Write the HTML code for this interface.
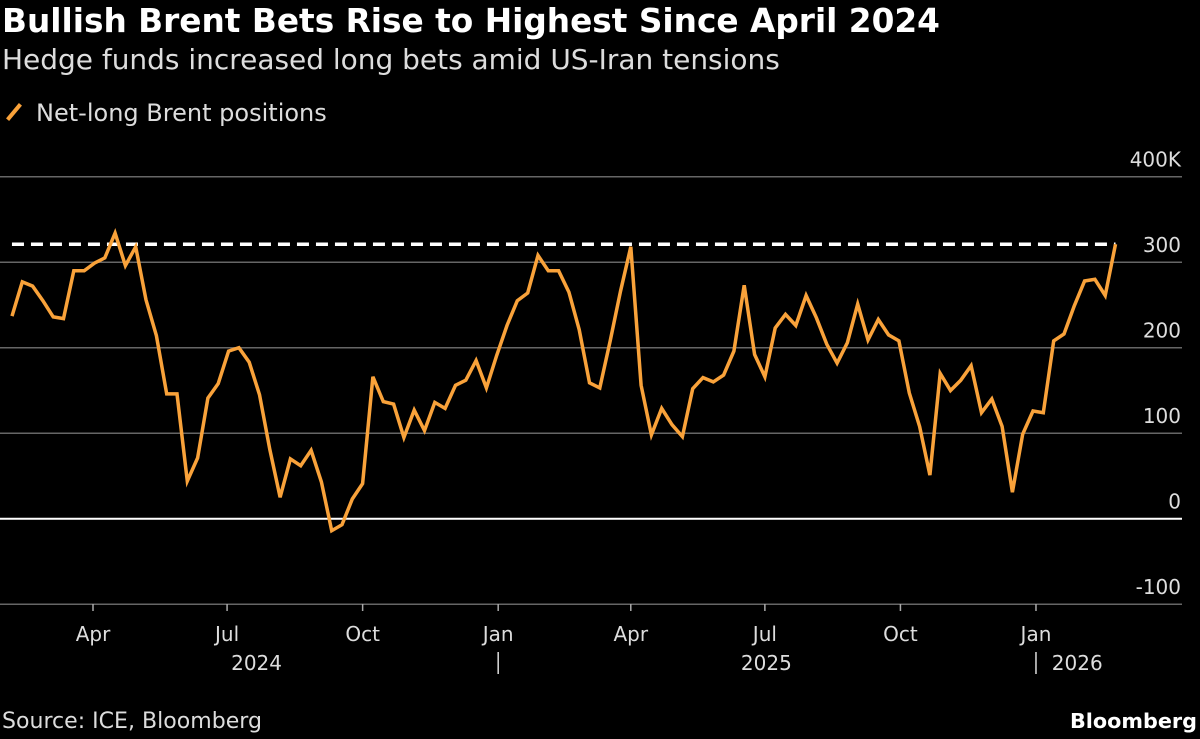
<!DOCTYPE html>
<html><head><meta charset="utf-8"><style>
body{margin:0;background:#000;width:1200px;height:739px;overflow:hidden;font-family:"DejaVu Sans","Liberation Sans",sans-serif;color:#fff}
.fit{position:absolute;white-space:nowrap}
#t{left:2px;top:2px;font-size:27px;font-weight:bold}
#s{left:2px;top:43px;font-size:24px;color:#ddd}
#lg{position:absolute;left:0;top:99px;font-size:20px;color:#ddd;width:400px;height:30px}
#lgt{left:36px;top:0}
#src{left:2px;top:709px;font-size:20px;color:#ddd}
#bb{left:1070px;top:709px;font-size:20px;font-weight:bold}
svg{position:absolute;left:0;top:0}
</style></head><body>
<div id="t" class="fit" data-w="938">Bullish Brent Bets Rise to Highest Since April 2024</div>
<div id="s" class="fit" data-w="778">Hedge funds increased long bets amid US-Iran tensions</div>
<div id="lg"><span style="position:absolute;left:12px;top:3px;width:4px;height:20px;background:#f9a23a;transform:rotate(40deg)"></span><span class="fit" id="lgt" data-w="291">Net-long Brent positions</span></div>
<div id="src" class="fit" data-w="260">Source: ICE, Bloomberg</div>
<div id="bb" class="fit" data-w="127">Bloomberg</div>
<svg id="c" width="1200" height="739"></svg>
<script>
document.querySelectorAll('.fit').forEach(e=>{
 const w=+e.getAttribute('data-w');const fs=parseFloat(getComputedStyle(e).fontSize);
 const r=e.getBoundingClientRect().width; if(r>0)e.style.fontSize=(fs*w/r).toFixed(2)+'px';
});
const values=[237,277,272,255,236,234,290,290,299,305,334,296,318,256,214,146,146,44,71,141,158,196,200,183,145,81,25,70,62,80,43,-14,-7,23,41,166,137,134,95,127,103,136,129,156,162,185,153,191,226,255,264,308,290,290,265,221,159,153,208,266,318,156,98,129,110,96,152,165,160,168,196,273,192,166,223,239,226,261,235,204,182,206,251,209,233,215,208,147,108,51,170,150,162,179,124,140,108,31,99,126,124,208,216,249,278,280,261,321];
const startDate="2024-02-06";
const refValue=321;
const yTicks=[-100,0,100,200,300,400];
const yTickLabels=["-100","0","100","200","300","400K"];
const monthTicks=["2024-04-01","2024-07-01","2024-10-01","2025-01-01","2025-04-01","2025-07-01","2025-10-01","2026-01-01"];
const monthLabels=["Apr","Jul","Oct","Jan","Apr","Jul","Oct","Jan"];
const yearLabels=[["2024","2024-07-21"],["2025","2025-07-02"],["2026","2026-01-29"]];
const yearSeps=["2025-01-01","2026-01-01"];
const NS="http://www.w3.org/2000/svg",svg=document.getElementById('c');
const day=d=>(Date.parse(d)-Date.parse("2024-01-01"))/864e5;
const X=t=>93+(t-91)*1.4734;
const Y=v=>518.7-v*0.855;
function el(tag,a,txt){const e=document.createElementNS(NS,tag);for(const k in a)e.setAttribute(k,a[k]);if(txt!=null)e.textContent=txt;svg.appendChild(e);return e;}
yTicks.forEach((v,i)=>{
 const g=el('line',{x1:0,x2:1182,y1:Y(v),y2:Y(v),stroke:v===0?'#fff':'#666','stroke-width':v===0?2:1.5});
 
 
 const t=el('text',{x:1181,y:Y(v)-10,'text-anchor':'end','font-size':20,fill:'#ddd'},yTickLabels[i]);
 
 
});
monthTicks.forEach((d,i)=>{
 const x=X(day(d));
 const k=el('line',{x1:x,x2:x,y1:604,y2:611,stroke:'#aaa','stroke-width':1.5});
 
 
 const t=el('text',{x:x,y:641,'text-anchor':'middle','font-size':20,fill:'#ddd'},monthLabels[i]);
 
 
});
yearLabels.forEach(([l,d])=>{
 const t=el('text',{x:X(day(d)),y:670,'text-anchor':'middle','font-size':20,fill:'#ddd'},l);
 
 
});
yearSeps.forEach(d=>{
 const s=el('line',{x1:X(day(d)),x2:X(day(d)),y1:652,y2:674,stroke:'#ddd','stroke-width':1.5});
 
 
});
const t0=day(startDate);
const xs=values.map((v,i)=>X(t0+7*i));
const dash=el('line',{x1:xs[0],x2:xs[xs.length-1],y1:Y(refValue),y2:Y(refValue),stroke:'#fff','stroke-width':3.5,'stroke-dasharray':'12,7'});


const p=el('polyline',{points:values.map((v,i)=>xs[i].toFixed(1)+','+Y(v).toFixed(1)).join(' '),fill:'none',stroke:'#f9a23a','stroke-width':3.5,'stroke-linejoin':'miter'});


</script>
</body></html>
